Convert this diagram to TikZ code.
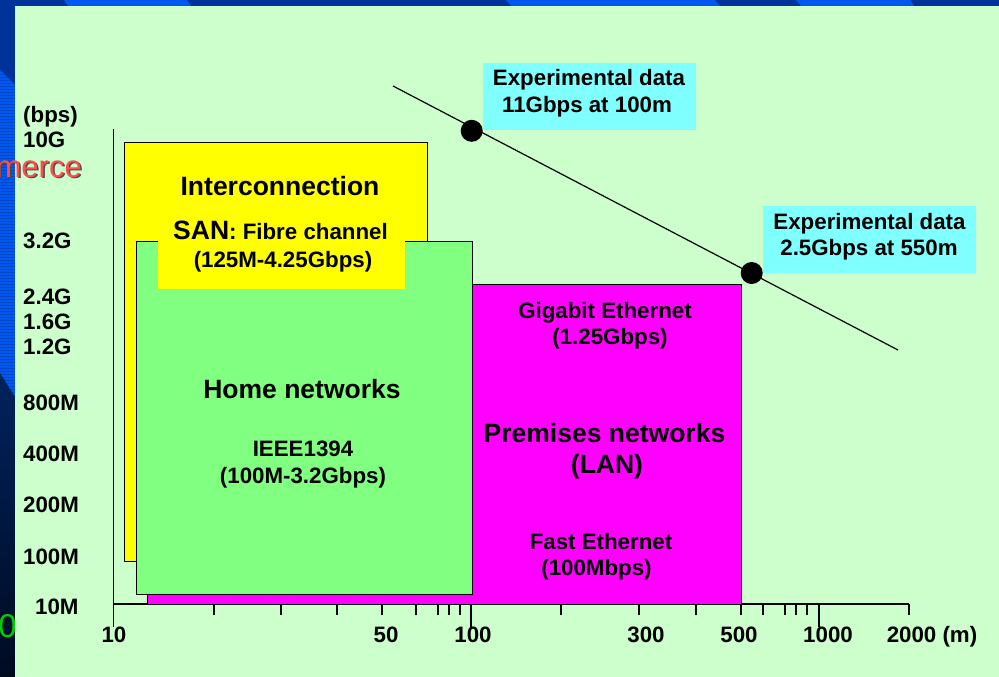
\documentclass[tikz,border=0pt]{standalone}
\usepackage{fontspec}
\setmainfont{Liberation Sans}
\definecolor{panel}{HTML}{CCFFCC}
\definecolor{bandblue}{HTML}{003399}
\definecolor{brightblue}{HTML}{0058EE}
\definecolor{stripeblue}{HTML}{0046C8}
\definecolor{navyA}{HTML}{00235E}
\definecolor{navyB}{HTML}{000B20}
\definecolor{yellowc}{HTML}{FFFF00}
\definecolor{greenc}{HTML}{80FF80}
\definecolor{magc}{HTML}{FF00FF}
\definecolor{cyanc}{HTML}{80FFFF}
\definecolor{mercered}{HTML}{FF4D4D}
\definecolor{zerogreen}{HTML}{00CC00}
\begin{document}
\begin{tikzpicture}[x=1pt,y=-1pt,
  lab/.style={font=\fontsize{22.3}{26}\selectfont\bfseries, inner sep=0pt, anchor=base},
  ylab/.style={lab, anchor=base west},
  biglab/.style={font=\fontsize{26.5}{30}\selectfont\bfseries, inner sep=0pt, anchor=base},
  boxline/.style={draw=black, line width=0.9pt},
  axisline/.style={line width=1.2pt},
  tickmark/.style={line width=1.2pt},
  dotnode/.style={circle, fill=black, inner sep=0pt, minimum size=22pt}]
\useasboundingbox (0,0) rectangle (999,677);
% ---- slide background ----
\fill[bandblue] (0,0) rectangle (999,677);
\fill[brightblue] (64,0) -- (187,0) -- (191,6) -- (68,6) -- cycle;
\fill[brightblue] (506,0) -- (715,0) -- (720,6) -- (511,6) -- cycle;
\fill[brightblue] (796,0) -- (910,0) -- (914,6) -- (801,6) -- cycle;
\begin{scope}
  \clip (0,70) -- (15,85) -- (15,397) -- (0,373) -- cycle;
  \fill[brightblue] (0,60) rectangle (15,400);
  \foreach \yy in {71,74,...,398} \draw[stripeblue, line width=0.8pt] (0,\yy) -- (15,\yy);
\end{scope}
\shade[top color=navyA, bottom color=navyB] (0,373) -- (15,397) -- (15,677) -- (0,677) -- cycle;
\node[anchor=base east, inner sep=0pt, text=zerogreen, font=\fontsize{33}{33}\selectfont] (zero) at (17,637) {0};
\fill[panel] (15,6) rectangle (999,677);
\node[anchor=base east, inner sep=0pt, text=black!70, font=\fontsize{31}{31}\selectfont] (merceshadow) at (83.5,178.5) {merce};
\node[anchor=base east, inner sep=0pt, text=mercered, font=\fontsize{31}{31}\selectfont] (merce) at (82,177) {merce};
% ---- axes ----
\coordinate (yaxtop) at (113.5,129);
\coordinate (yaxbot) at (113.5,627);
\coordinate (xaxl) at (113.5,604);
\coordinate (xaxr) at (909,604);
\draw[axisline] (yaxtop) -- (yaxbot);
\draw[axisline] (xaxl) -- (xaxr);
% ---- boxes ----
\filldraw[fill=yellowc, boxline] (124,142) rectangle (427,561);
\filldraw[fill=magc, boxline] (147,284) rectangle (741,604);
\filldraw[fill=greenc, boxline] (136,241) rectangle (472,594);
\fill[yellowc] (158,236) rectangle (405,289);
% ---- ticks ----
\foreach \xx in {214,281,337,382,416,438,449,460,561,639,696,741,763,785,796,807,909}
  \draw[tickmark] (\xx,604) -- (\xx,615);
\foreach \xx in {471,819}
  \draw[tickmark] (\xx,604) -- (\xx,627);
% ---- axis labels ----
\node[ylab] (ubps) at (23,122) {(bps)};
\node[ylab] (y10G) at (23,147) {10G};
\node[ylab] (y32G) at (23,248) {3.2G};
\node[ylab] (y24G) at (23,304) {2.4G};
\node[ylab] (y16G) at (23,329) {1.6G};
\node[ylab] (y12G) at (23,354) {1.2G};
\node[ylab] (y800M) at (23,410) {800M};
\node[ylab] (y400M) at (23,461) {400M};
\node[ylab] (y200M) at (23,512) {200M};
\node[ylab] (y100M) at (23,564) {100M};
\node[ylab] (y10M) at (35,614) {10M};
\node[lab] (x10) at (114,642) {10};
\node[lab] (x50) at (386,642) {50};
\node[lab] (x100) at (473,642) {100};
\node[lab] (x300) at (646,642) {300};
\node[lab] (x500) at (739,642) {500};
\node[lab] (x1000) at (828,642) {1000};
\node[lab] (x2000) at (932,642) {2000 (m)};
% ---- box texts ----
\node[biglab] (interc) at (280,195) {Interconnection};
\node[lab] (san) at (280.5,239) {{\fontsize{26.5}{30}\selectfont SAN}: Fibre channel};
\node[lab] (sanrate) at (283,267) {(125M-4.25Gbps)};
\node[biglab] (home) at (302,398) {Home networks};
\node[lab] (ieee) at (303,456) {IEEE1394};
\node[lab] (ieeerate) at (303,483) {(100M-3.2Gbps)};
\node[lab] (gige) at (605,318) {Gigabit Ethernet};
\node[lab] (gigerate) at (610,344) {(1.25Gbps)};
\node[biglab] (prem) at (604.5,442) {Premises networks};
\node[biglab] (lan) at (607,473) {(LAN)};
\node[lab] (fe) at (601,549) {Fast Ethernet};
\node[lab] (ferate) at (596.5,575) {(100Mbps)};
% ---- experimental data ----
\fill[cyanc] (483,63) rectangle (696,130);
\fill[cyanc] (763,206) rectangle (976,273);
\node[lab] (exa) at (589,85) {Experimental data};
\node[lab] (exaval) at (587,112) {11Gbps at 100m};
\node[lab] (exb) at (869.5,229) {Experimental data};
\node[lab] (exbval) at (869,255) {2.5Gbps at 550m};
\coordinate (fitstart) at (393,86);
\coordinate (fitend) at (898,350);
\draw[line width=1.2pt] (fitstart) -- (fitend);
\node[dotnode] (dota) at (471.7,130.8) {};
\node[dotnode] (dotb) at (751.7,273) {};
\end{tikzpicture}
\end{document}
